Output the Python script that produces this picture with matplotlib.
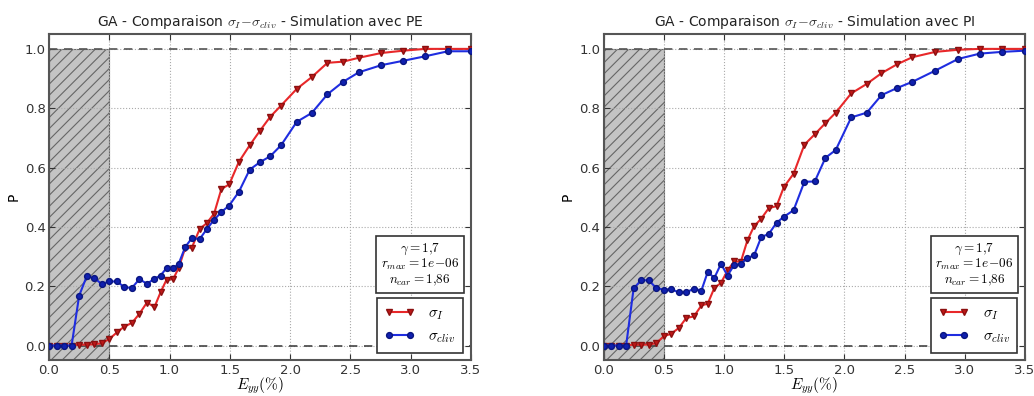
import matplotlib
matplotlib.use("Agg")
import matplotlib.pyplot as plt

plt.rcParams['mathtext.fontset'] = 'cm'
plt.rcParams['font.family'] = ['DejaVu Sans']
plt.rcParams['hatch.linewidth'] = 0.8

# ---- data ----
x_pe = [0, 0.0625, 0.125, 0.1875, 0.25, 0.3125, 0.375, 0.4375, 0.5, 0.5625,
        0.625, 0.6875, 0.75, 0.8125, 0.875, 0.925, 0.975, 1.03, 1.075, 1.13,
        1.185, 1.25, 1.31, 1.37, 1.43, 1.495, 1.575, 1.665, 1.75, 1.835,
        1.925, 2.055, 2.18, 2.31, 2.44, 2.57, 2.755, 2.94, 3.12, 3.31, 3.5]
sigI_pe = [0, 0, 0, 0, 0.003, 0.003, 0.004, 0.008, 0.022, 0.044,
           0.064, 0.076, 0.107, 0.145, 0.13, 0.179, 0.222, 0.224, 0.261, 0.329,
           0.33, 0.393, 0.413, 0.445, 0.528, 0.543, 0.619, 0.675, 0.724, 0.771,
           0.809, 0.865, 0.905, 0.953, 0.957, 0.97, 0.986, 0.994, 1.0, 1.0, 1.0]
sigc_pe = [0, 0, 0, 0, 0.168, 0.233, 0.228, 0.207, 0.216, 0.216,
           0.197, 0.194, 0.224, 0.208, 0.225, 0.236, 0.261, 0.261, 0.275, 0.332,
           0.362, 0.359, 0.393, 0.424, 0.45, 0.472, 0.518, 0.593, 0.618, 0.638,
           0.675, 0.754, 0.784, 0.847, 0.889, 0.921, 0.945, 0.96, 0.975, 0.992, 0.992]

x_pi = [0, 0.0625, 0.125, 0.1875, 0.25, 0.3125, 0.375, 0.4375, 0.5, 0.5625,
        0.625, 0.6875, 0.75, 0.8125, 0.865, 0.92, 0.975, 1.03, 1.085, 1.14,
        1.195, 1.25, 1.31, 1.372, 1.437, 1.497, 1.578, 1.668, 1.754, 1.843,
        1.928, 2.057, 2.186, 2.308, 2.437, 2.565, 2.756, 2.944, 3.124, 3.31, 3.5]
sigI_pi = [0, 0, 0, 0, 0.003, 0.003, 0.003, 0.008, 0.031, 0.04,
           0.059, 0.093, 0.098, 0.135, 0.141, 0.194, 0.211, 0.253, 0.284, 0.282,
           0.355, 0.402, 0.428, 0.463, 0.47, 0.534, 0.579, 0.677, 0.712, 0.75,
           0.785, 0.85, 0.882, 0.918, 0.948, 0.972, 0.99, 0.997, 1.0, 1.0, 1.0]
sigc_pi = [0, 0, 0, 0, 0.193, 0.22, 0.22, 0.194, 0.188, 0.19,
           0.179, 0.179, 0.192, 0.185, 0.248, 0.228, 0.275, 0.236, 0.272, 0.275,
           0.295, 0.304, 0.366, 0.376, 0.414, 0.434, 0.456, 0.552, 0.553, 0.633,
           0.659, 0.769, 0.785, 0.844, 0.868, 0.889, 0.927, 0.966, 0.984, 0.99, 0.994]

titles = [r"GA - Comparaison $\sigma_I\!-\!\sigma_{cliv}$ - Simulation avec PE",
          r"GA - Comparaison $\sigma_I\!-\!\sigma_{cliv}$ - Simulation avec PI"]
xticks = [0.0, 0.5, 1.0, 1.5, 2.0, 2.5, 3.0, 3.5]
yticks = [0.0, 0.2, 0.4, 0.6, 0.8, 1.0]
info_text = "$\\gamma=1{,}7$\n$r_{max}=1e\\!-\\!06$\n$n_{car}=1{,}86$"
label_I = r"$\sigma_I$"
label_c = r"$\sigma_{cliv}$"

fig = plt.figure(figsize=(10.34, 3.96), dpi=100)
axes = [fig.add_axes([0.0474, 0.09, 0.408, 0.824]),
        fig.add_axes([0.5837, 0.09, 0.4076, 0.824])]

datasets = [(x_pe, sigI_pe, sigc_pe), (x_pi, sigI_pi, sigc_pi)]

for ax, (xs, sI, sc), title in zip(axes, datasets, titles):
    ax.fill_between([0, 0.5], -0.1, 1.0, facecolor='#c4c4c4', edgecolor='#666666',
                    hatch='///', linewidth=0.8, zorder=1)
    ax.axhline(0.0, color='#444444', linestyle='--', dashes=(5, 4), linewidth=1.2, zorder=2)
    ax.axhline(1.0, color='#555555', linestyle='--', dashes=(5, 4), linewidth=1.2, zorder=2)
    ax.plot(xs, sI, color='#e8282a', marker='v', markersize=5,
            markerfacecolor='#c01818', markeredgecolor='#8b1010',
            linewidth=1.5, label=label_I, zorder=3)
    ax.plot(xs, sc, color='#1f2de0', marker='o', markersize=4.2,
            markerfacecolor='#1020b0', markeredgecolor='#0a1680',
            linewidth=1.5, label=label_c, zorder=4)
    ax.set_xlim(0, 3.5)
    ax.set_ylim(-0.05, 1.05)
    ax.set_xticks(xticks)
    ax.set_yticks(yticks)
    ax.set_xticklabels([f"{t:.1f}" for t in xticks])
    ax.set_yticklabels([f"{t:.1f}" for t in yticks])
    ax.tick_params(direction='in', labelsize=9.5, colors='#333333', length=4,
                   top=True, right=True, pad=2.5)
    ax.grid(True, linestyle=':', color='#aaaaaa', linewidth=0.8)
    for s in ax.spines.values():
        s.set_color('#555555')
        s.set_linewidth(1.5)
    ax.set_title(title, fontsize=10, color='#222222', pad=6)
    ax.set_xlabel(r"$E_{yy}(\%)$", fontsize=11, labelpad=-1)
    ax.set_ylabel("P", fontsize=10, labelpad=3)
    ax.text(0.88, 0.293, info_text, transform=ax.transAxes, ha='center', va='center',
            fontsize=9.5, linespacing=1.05,
            bbox=dict(boxstyle='square,pad=0.35', facecolor='white', edgecolor='#333333',
                      linewidth=1.2), zorder=5)
    leg = ax.legend(loc='lower right', fontsize=11, numpoints=2, handlelength=2.0,
                    fancybox=False, borderaxespad=0.5, labelspacing=0.4,
                    handletextpad=0.9, borderpad=0.5,
                    edgecolor='#333333', framealpha=1)
    leg.get_frame().set_linewidth(1.2)

fig.savefig("out.png", dpi=100)
